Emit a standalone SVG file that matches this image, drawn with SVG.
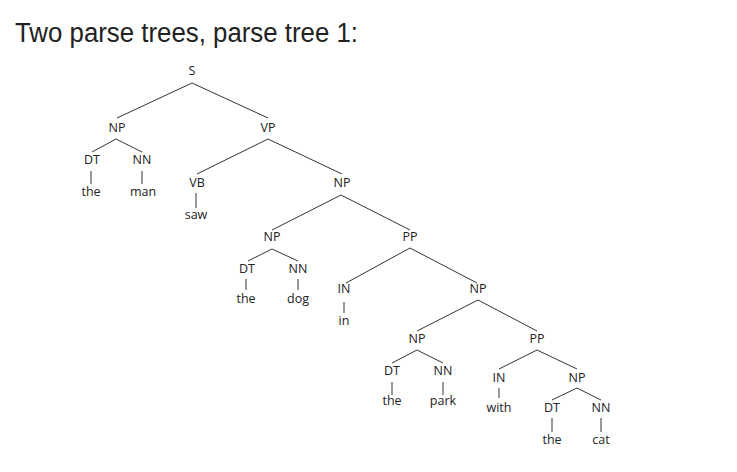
<svg xmlns="http://www.w3.org/2000/svg" width="737" height="472" viewBox="0 0 737 472">
<style>
.t{font-family:"Open Sans","DejaVu Sans",sans-serif;font-size:12.5px;fill:#222;text-anchor:middle}
.title{font-family:"Liberation Sans",Arial,sans-serif;font-size:27px;fill:#222}
.c line{stroke:#333;stroke-width:1}
</style>
<rect width="737" height="472" fill="#fff"/>
<text class="title" x="15" y="42" textLength="343" lengthAdjust="spacingAndGlyphs">Two parse trees, parse tree 1:</text>
<g class="c" id="connectors">
<line x1="192" y1="83" x2="117" y2="118"/>
<line x1="192" y1="83" x2="268" y2="118"/>
<line x1="116" y1="139" x2="92" y2="152"/>
<line x1="116" y1="139" x2="142" y2="152"/>
<line x1="91" y1="171" x2="91" y2="184"/>
<line x1="142" y1="171" x2="142" y2="184"/>
<line x1="268" y1="139" x2="197" y2="174"/>
<line x1="268" y1="139" x2="342" y2="174"/>
<line x1="196" y1="193" x2="196" y2="208"/>
<line x1="341" y1="195" x2="272" y2="230"/>
<line x1="341" y1="195" x2="410" y2="230"/>
<line x1="272" y1="249" x2="248" y2="261"/>
<line x1="272" y1="249" x2="298" y2="261"/>
<line x1="246" y1="279" x2="246" y2="290"/>
<line x1="298" y1="279" x2="298" y2="290"/>
<line x1="410" y1="248" x2="346" y2="283"/>
<line x1="410" y1="248" x2="477" y2="283"/>
<line x1="344" y1="302" x2="344" y2="313"/>
<line x1="478" y1="300" x2="417" y2="331"/>
<line x1="478" y1="300" x2="537" y2="331"/>
<line x1="417" y1="350" x2="392" y2="363"/>
<line x1="417" y1="350" x2="443" y2="363"/>
<line x1="392" y1="382" x2="392" y2="395"/>
<line x1="443" y1="382" x2="443" y2="395"/>
<line x1="537" y1="350" x2="499" y2="369"/>
<line x1="537" y1="350" x2="577" y2="369"/>
<line x1="499" y1="388" x2="499" y2="398"/>
<line x1="577" y1="388" x2="552" y2="400"/>
<line x1="577" y1="388" x2="601" y2="400"/>
<line x1="552" y1="418" x2="552" y2="432"/>
<line x1="601" y1="418" x2="601" y2="432"/>
</g>
<g id="S"><text class="t" x="192" y="75">S</text></g>
<g id="NP1"><text class="t" x="117" y="132">NP</text></g>
<g id="VP"><text class="t" x="268" y="132">VP</text></g>
<g id="DT1"><text class="t" x="92" y="164">DT</text></g>
<g id="NN1"><text class="t" x="142" y="164">NN</text></g>
<g id="the1"><text class="t" x="91" y="196">the</text></g>
<g id="man"><text class="t" x="143" y="196">man</text></g>
<g id="VB"><text class="t" x="197" y="187">VB</text></g>
<g id="NP2"><text class="t" x="342" y="187">NP</text></g>
<g id="saw"><text class="t" x="196" y="219">saw</text></g>
<g id="NP3"><text class="t" x="272" y="241">NP</text></g>
<g id="PP1"><text class="t" x="410" y="241">PP</text></g>
<g id="DT2"><text class="t" x="247" y="273">DT</text></g>
<g id="NN2"><text class="t" x="298" y="273">NN</text></g>
<g id="the2"><text class="t" x="246" y="303">the</text></g>
<g id="dog"><text class="t" x="298" y="303">dog</text></g>
<g id="IN1"><text class="t" x="344" y="293">IN</text></g>
<g id="NP4"><text class="t" x="478" y="293">NP</text></g>
<g id="in"><text class="t" x="344" y="325">in</text></g>
<g id="NP5"><text class="t" x="417" y="343">NP</text></g>
<g id="PP2"><text class="t" x="537" y="343">PP</text></g>
<g id="DT3"><text class="t" x="392" y="375">DT</text></g>
<g id="NN3"><text class="t" x="443" y="375">NN</text></g>
<g id="the3"><text class="t" x="392" y="405">the</text></g>
<g id="park"><text class="t" x="443" y="405">park</text></g>
<g id="IN2"><text class="t" x="499" y="382">IN</text></g>
<g id="NP6"><text class="t" x="577" y="382">NP</text></g>
<g id="with"><text class="t" x="499" y="412">with</text></g>
<g id="DT4"><text class="t" x="552" y="412">DT</text></g>
<g id="NN4"><text class="t" x="601" y="412">NN</text></g>
<g id="the4"><text class="t" x="552" y="444">the</text></g>
<g id="cat"><text class="t" x="601" y="444">cat</text></g>
</svg>
